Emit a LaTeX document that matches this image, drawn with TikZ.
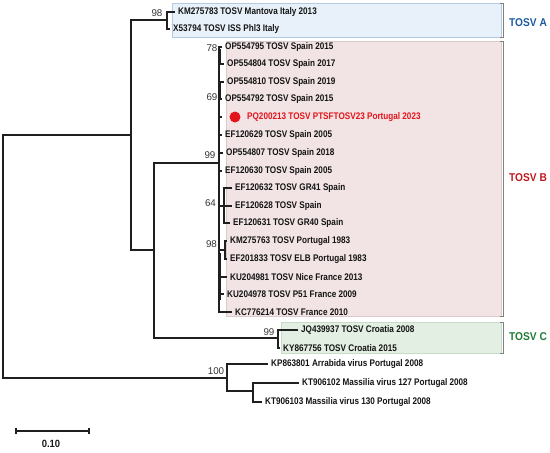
\documentclass[tikz,border=0pt]{standalone}
\usepackage{fontspec}
\setmainfont{Liberation Sans}
\newfontfamily\leaffont[FakeStretch=0.85]{Liberation Sans Bold}
\newfontfamily\cladefont[FakeStretch=0.9]{Liberation Sans Bold}
\begin{document}
\begin{tikzpicture}[x=1pt,y=-1pt,
  br/.style={line width=1.1pt,draw=black!88},
  thickseg/.style={line width=2.1pt,draw=black!88},
  leaf/.style={anchor=west,inner xsep=3pt,inner ysep=0pt,font=\leaffont\fontsize{9.6}{10}\selectfont,text=black!92},
  boot/.style={inner sep=0pt,font=\fontsize{9.8}{10}\selectfont,text=black!80},
  clade/.style={anchor=west,inner sep=0pt,font=\cladefont\fontsize{11.3}{12}\selectfont},
  bracket/.style={draw=black!50,line width=0.8pt}]
\useasboundingbox (0,0) rectangle (550,453);
\definecolor{boxA}{HTML}{E8F1FA}
\definecolor{boxAline}{HTML}{B4CAE0}
\definecolor{boxB}{HTML}{F2E4E4}
\definecolor{boxBline}{HTML}{DCCACA}
\definecolor{boxC}{HTML}{E3EFE3}
\definecolor{boxCline}{HTML}{C8DAC8}
\definecolor{colA}{HTML}{1B5AA0}
\definecolor{colB}{HTML}{C0181E}
\definecolor{colC}{HTML}{1E7B34}
\definecolor{redlab}{HTML}{E3141B}
% clade boxes
\fill[boxA,draw=boxAline,line width=0.5pt] (172,3) rectangle (501,37);
\fill[boxB,draw=boxBline,line width=0.5pt] (226,41) rectangle (501,316);
\fill[boxC,draw=boxCline,line width=0.5pt] (281,322) rectangle (501,353);
\draw[bracket] (500,3) -- (503,3) -- (503,37) -- (500,37);
\draw[bracket] (500,41) -- (503,41) -- (503,316) -- (500,316);
\draw[bracket] (500,322) -- (503,322) -- (503,353) -- (500,353);
\node[clade,text=colA] (cA) at (509,23) {TOSV A};
\node[clade,text=colB] (cB) at (509,178) {TOSV B};
\node[clade,text=colC] (cC) at (509,337) {TOSV C};
% internal nodes
\coordinate (root) at (3,256);
\coordinate (nT) at (131,135);
\coordinate (nA) at (167,20);
\coordinate (nBC) at (154,250);
\coordinate (nB) at (219,163);
\coordinate (n64) at (224,206);
\coordinate (n98) at (225,250);
\coordinate (nC) at (278,338);
\coordinate (nOut) at (227,378);
\coordinate (nM) at (253,391);
% leaves
\node[leaf] (l1) at (175,12) {KM275783 TOSV Mantova Italy 2013};
\node[leaf] (l2) at (170,29) {X53794 TOSV ISS Phl3 Italy};
\node[leaf] (l3) at (222,47) {OP554795 TOSV Spain 2015};
\node[leaf] (l4) at (224,64) {OP554804 TOSV Spain 2017};
\node[leaf] (l5) at (224,82) {OP554810 TOSV Spain 2019};
\node[leaf] (l6) at (222,99) {OP554792 TOSV Spain 2015};
\coordinate (l7) at (222,117);
\node[circle,fill=redlab,inner sep=0pt,minimum size=11pt] (dot) at (235,117) {};
\node[leaf,inner xsep=0pt,text=redlab] (l7t) at (247,117) {PQ200213 TOSV PTSFTOSV23 Portugal 2023};
\node[leaf] (l8) at (222,135) {EF120629 TOSV Spain 2005};
\node[leaf] (l9) at (223,153) {OP554807 TOSV Spain 2018};
\node[leaf] (l10) at (222,171) {EF120630 TOSV Spain 2005};
\node[leaf] (l11) at (232,188) {EF120632 TOSV GR41 Spain};
\node[leaf] (l12) at (232,206) {EF120628 TOSV Spain};
\node[leaf] (l13) at (230,223) {EF120631 TOSV GR40 Spain};
\node[leaf] (l14) at (227,241) {KM275763 TOSV Portugal 1983};
\node[leaf] (l15) at (227,259) {EF201833 TOSV ELB Portugal 1983};
\node[leaf] (l16) at (227,277) {KU204981 TOSV Nice France 2013};
\node[leaf] (l17) at (224,294) {KU204978 TOSV P51 France 2009};
\node[leaf] (l18) at (232,312) {KC776214 TOSV France 2010};
\node[leaf] (l19) at (298,330) {JQ439937 TOSV Croatia 2008};
\node[leaf] (l20) at (280,348) {KY867756 TOSV Croatia 2015};
\node[leaf] (l21) at (268,364) {KP863801 Arrabida virus Portugal 2008};
\node[leaf] (l22) at (299,383) {KT906102 Massilia virus 127 Portugal 2008};
\node[leaf] (l23) at (262,402) {KT906103 Massilia virus 130 Portugal 2008};
% branches
\draw[br] (root) |- (nT);
\draw[br] (root) |- (nOut);
\draw[br] (nT) |- (nA);
\draw[br] (nT) |- (nBC);
\draw[br] (nA) |- (l1.west);
\draw[br] (nA) |- (l2.west);
\draw[br] (nBC) |- (nB);
\draw[br] (nBC) |- (nC);
\foreach \l in {l3,l4,l5,l6,l8,l9,l10,l16,l17,l18}{\draw[br] (nB) |- (\l.west);}
\draw[br] (nB) |- (l7);
\draw[br] (nB) |- (n64);
\draw[br] (nB) |- (n98);
\foreach \l in {l11,l12,l13}{\draw[br] (n64) |- (\l.west);}
\draw[br] (n98) |- (l14.west);
\draw[br] (n98) |- (l15.west);
\draw[br] (nC) |- (l19.west);
\draw[br] (nC) |- (l20.west);
\draw[br] (nOut) |- (l21.west);
\draw[br] (nOut) |- (nM);
\draw[br] (nM) |- (l22.west);
\draw[br] (nM) |- (l23.west);
% thick zero-length segments
\coordinate (t1a) at (220,49); \coordinate (t1b) at (220,65);
\coordinate (t2a) at (220,81); \coordinate (t2b) at (220,99);
\coordinate (t3a) at (220,253); \coordinate (t3b) at (220,300);
\draw[thickseg] (t1a) -- (t1b);
\draw[thickseg] (t2a) -- (t2b);
\draw[thickseg] (t3a) -- (t3b);
% bootstrap values
\node[boot] (b1) at (157,13) {98};
\node[boot] (b2) at (212,48) {78};
\node[boot] (b3) at (212,97) {69};
\node[boot] (b4) at (210,155) {99};
\node[boot] (b5) at (210.5,203) {64};
\node[boot] (b6) at (211.5,244) {98};
\node[boot] (b7) at (269,332) {99};
\node[boot] (b8) at (216,371) {100};
% scale bar
\coordinate (s1) at (16,431);
\coordinate (s2) at (89,431);
\draw[br] (s1) -- (s2);
\draw[br] ([yshift=-3pt]s1) -- ([yshift=3pt]s1);
\draw[br] ([yshift=-3pt]s2) -- ([yshift=3pt]s2);
\node[inner sep=0pt,font=\cladefont\fontsize{10.5}{11}\selectfont,text=black!90] (sl) at (51,444) {0.10};
\end{tikzpicture}
\end{document}
